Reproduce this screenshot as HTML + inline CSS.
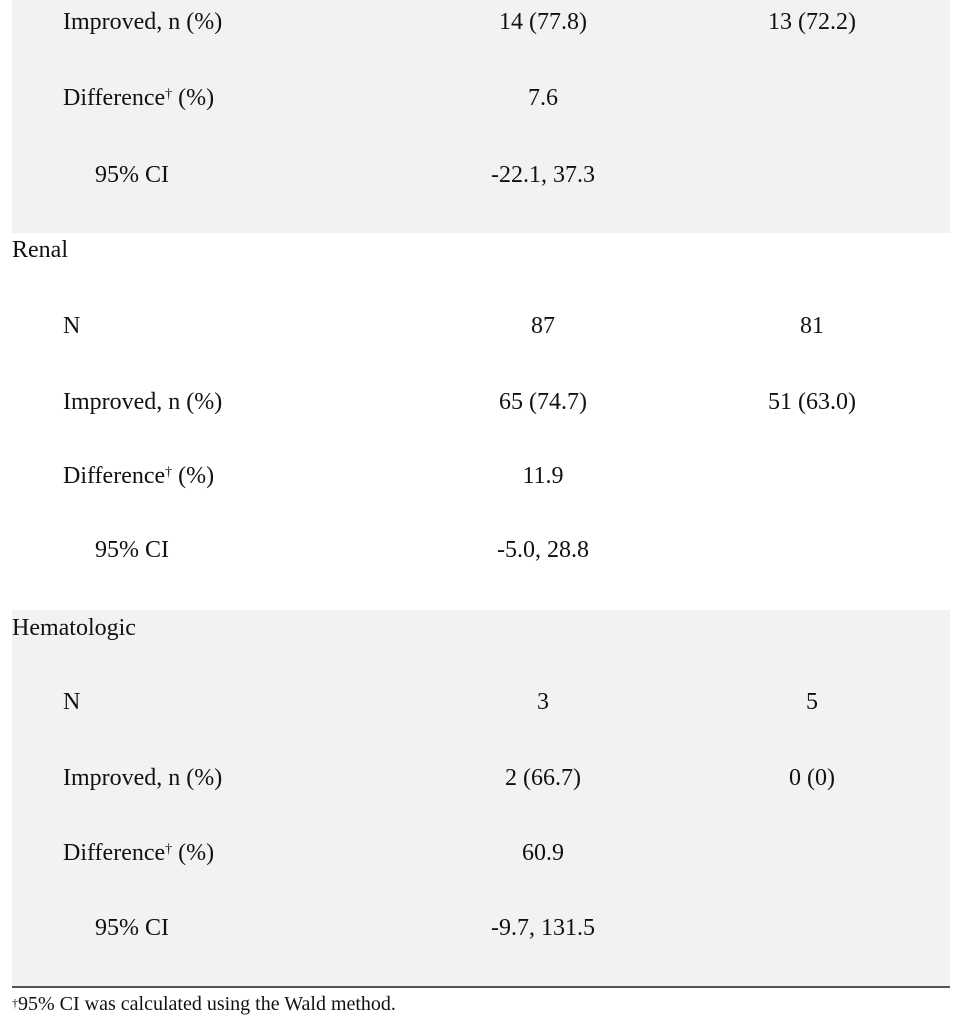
<!DOCTYPE html>
<html><head><style>
body{margin:0;width:970px;height:1024px;background:#fff;position:relative;font-family:"Liberation Serif",serif;font-size:24px;color:#111;overflow:hidden}
.g{position:absolute;left:12px;width:938px;background:#f2f2f2}
.t{position:absolute;line-height:26px;white-space:nowrap}
.c{transform:translateX(-50%)}
sup{font-size:14px;vertical-align:top;position:relative;top:-3px}
</style></head><body>
<div class="g" style="top:0;height:233px"></div>
<div class="g" style="top:610px;height:377px"></div>
<div style="position:absolute;left:12px;width:938px;top:986px;height:2px;background:#555"></div>

<div class="t" style="left:63px;top:9px">Improved, n (%)</div>
<div class="t c" style="left:543px;top:9px">14 (77.8)</div>
<div class="t c" style="left:812px;top:9px">13 (72.2)</div>
<div class="t" style="left:63px;top:85px">Difference<sup>†</sup> (%)</div>
<div class="t c" style="left:543px;top:85px">7.6</div>
<div class="t" style="left:95px;top:162px">95% CI</div>
<div class="t c" style="left:543px;top:162px">-22.1, 37.3</div>

<div class="t" style="left:12px;top:237px">Renal</div>
<div class="t" style="left:63px;top:313px">N</div>
<div class="t c" style="left:543px;top:313px">87</div>
<div class="t c" style="left:812px;top:313px">81</div>
<div class="t" style="left:63px;top:389px">Improved, n (%)</div>
<div class="t c" style="left:543px;top:389px">65 (74.7)</div>
<div class="t c" style="left:812px;top:389px">51 (63.0)</div>
<div class="t" style="left:63px;top:463px">Difference<sup>†</sup> (%)</div>
<div class="t c" style="left:543px;top:463px">11.9</div>
<div class="t" style="left:95px;top:537px">95% CI</div>
<div class="t c" style="left:543px;top:537px">-5.0, 28.8</div>

<div class="t" style="left:12px;top:615px">Hematologic</div>
<div class="t" style="left:63px;top:689px">N</div>
<div class="t c" style="left:543px;top:689px">3</div>
<div class="t c" style="left:812px;top:689px">5</div>
<div class="t" style="left:63px;top:765px">Improved, n (%)</div>
<div class="t c" style="left:543px;top:765px">2 (66.7)</div>
<div class="t c" style="left:812px;top:765px">0 (0)</div>
<div class="t" style="left:63px;top:840px">Difference<sup>†</sup> (%)</div>
<div class="t c" style="left:543px;top:840px">60.9</div>
<div class="t" style="left:95px;top:915px">95% CI</div>
<div class="t c" style="left:543px;top:915px">-9.7, 131.5</div>

<div class="t" style="left:12px;top:991px;font-size:20px"><sup style="font-size:12px;top:-1px">†</sup>95% CI was calculated using the Wald method.</div>
</body></html>
